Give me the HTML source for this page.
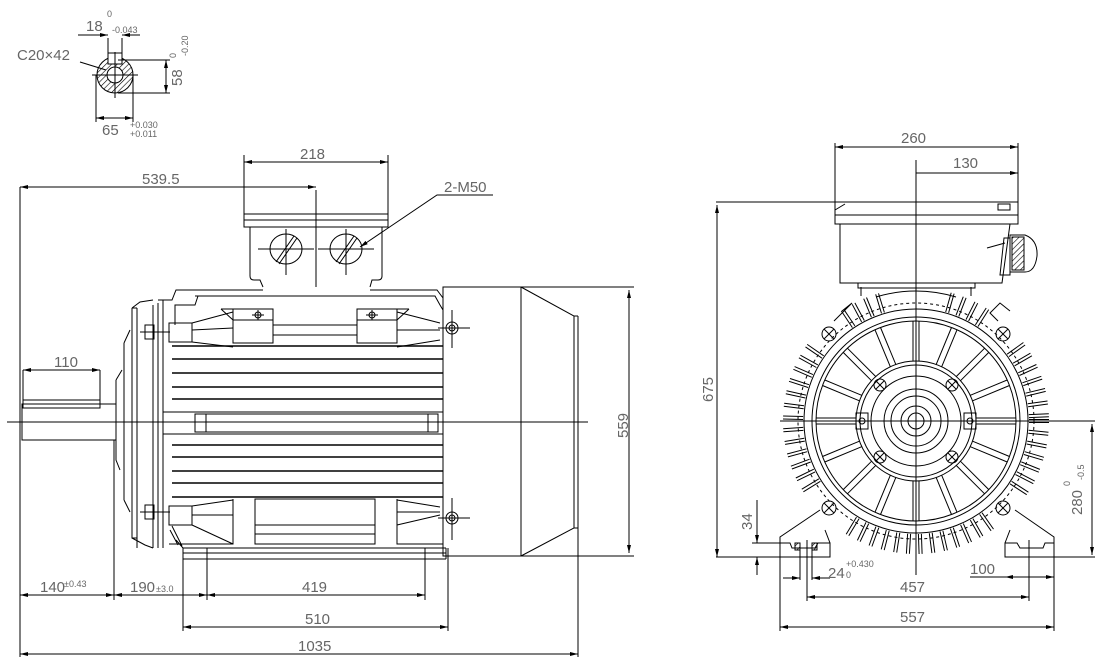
<!DOCTYPE html>
<html><head><meta charset="utf-8"><style>
html,body{margin:0;padding:0;background:#fff;}
svg{display:block}
text{font-family:"Liberation Sans",sans-serif;fill:#666;font-size:15px;stroke:none;}
.s{font-size:9px;}
</style></head><body>
<svg id="d" width="1101" height="669" viewBox="0 0 1101 669" xmlns="http://www.w3.org/2000/svg" stroke="#000" stroke-width="1" fill="none">
<defs>
<marker id="a" markerWidth="8" markerHeight="6" refX="8" refY="3" orient="auto-start-reverse" markerUnits="userSpaceOnUse"><path d="M0,1 L8,3 L0,5" fill="#000" stroke="none"/></marker>
<pattern id="h" width="4" height="4" patternUnits="userSpaceOnUse" patternTransform="rotate(45)"><line x1="0" y1="0" x2="0" y2="4" stroke="#000" stroke-width="1.2"/></pattern>
</defs>

<!-- ===== top-left shaft section ===== -->
<g>
<circle cx="115" cy="75" r="18" fill="url(#h)"/>
<circle cx="115" cy="75" r="8" fill="#fff"/>
<rect x="108" y="53" width="14" height="11" fill="#fff"/>
<line x1="92" y1="75" x2="138" y2="75"/><line x1="115" y1="52" x2="115" y2="98"/>
<line x1="108" y1="38" x2="108" y2="60"/><line x1="122" y1="38" x2="122" y2="60"/>
<line x1="78" y1="35" x2="108" y2="35" marker-end="url(#a)"/><line x1="140" y1="35" x2="122" y2="35" marker-end="url(#a)"/>
<line x1="118" y1="60" x2="170" y2="60"/><line x1="118" y1="93" x2="170" y2="93"/>
<line x1="166" y1="60" x2="166" y2="93" marker-start="url(#a)" marker-end="url(#a)"/>
<line x1="96" y1="75" x2="96" y2="122"/><line x1="133" y1="75" x2="133" y2="122"/>
<line x1="96" y1="118" x2="133" y2="118" marker-start="url(#a)" marker-end="url(#a)"/>
<line x1="80" y1="62" x2="106" y2="70"/>
</g>
<text x="86" y="31">18</text><text x="107" y="17" class="s">0</text><text x="112" y="33" class="s" font-size="10">-0.043</text>
<text x="17" y="60">C20×42</text>
<text x="182" y="86" transform="rotate(-90 182 86)">58</text><text x="176" y="58" class="s" transform="rotate(-90 176 58)">0</text><text x="188" y="56" class="s" transform="rotate(-90 188 56)">-0.20</text>
<text x="102" y="135">65</text><text x="130" y="128" class="s">+0.030</text><text x="130" y="137" class="s">+0.011</text>

<!-- ===== LEFT VIEW ===== -->
<line x1="20" y1="187" x2="20" y2="657"/>
<line x1="20" y1="187" x2="316" y2="187" marker-start="url(#a)" marker-end="url(#a)"/>
<text x="142" y="184">539.5</text>
<line x1="244" y1="155" x2="244" y2="214"/><line x1="388" y1="155" x2="388" y2="214"/>
<line x1="244" y1="162" x2="388" y2="162" marker-start="url(#a)" marker-end="url(#a)"/>
<text x="300" y="159">218</text>
<rect x="244" y="214" width="144" height="13"/><line x1="244" y1="220" x2="388" y2="220"/>
<path d="M250,227 V276 Q250,280 254,280 H260 L263,287 M382,227 V276 Q382,280 378,280 H372 L370,287"/>
<line x1="316" y1="190" x2="316" y2="287"/>
<ellipse cx="286" cy="249" rx="16" ry="15"/><ellipse cx="346" cy="249" rx="16" ry="15"/>
<line x1="258" y1="249" x2="314" y2="249"/><line x1="286" y1="229" x2="286" y2="275"/>
<line x1="318" y1="249" x2="374" y2="249"/><line x1="346" y1="229" x2="346" y2="275"/>
<path d="M276,262 L294,236 M279,264 L297,238 M336,262 L354,236 M339,264 L357,238"/>
<path d="M360,247 L437,195 H493" marker-start="url(#a)"/>
<text x="444" y="192">2-M50</text>
<path d="M158,300 L172,300 L176,290 H263 M370,290 H437 L443,298"/>
<path d="M195,296 H435 L440,305 L443,310"/>
<path d="M175,325 L175,305 L195,305 L198,296"/>
<line x1="163" y1="300" x2="163" y2="548"/>
<line x1="158" y1="303" x2="158" y2="548"/>
<path d="M153,305 V548 M137,308 V548 M132,308 H137 M132,308 V538 H137"/>
<path d="M132,308 L140,302 L153,300"/>
<path d="M132,538 L145,545 L153,548"/>
<path d="M124,343 V500 M124,343 L130,330 M124,500 L130,512 M116,380 V460 L120,470 M116,380 L122,370"/>
<rect x="22" y="404" width="94" height="36"/>
<path d="M23,400 H100 V408 H23 Z"/>
<line x1="23" y1="370" x2="23" y2="404"/><line x1="100" y1="370" x2="100" y2="400"/>
<line x1="23" y1="370" x2="100" y2="370" marker-start="url(#a)" marker-end="url(#a)"/>
<text x="54" y="367">110</text>
<line x1="7" y1="422" x2="588" y2="422"/>
<rect x="169" y="323" width="23" height="19"/>
<path d="M192,323 L233,312 M192,342 L233,347 M192,330 L233,328"/>
<rect x="233" y="309" width="40" height="34"/><path d="M221,309 H233 M221,309 L233,320 M233,320 H273"/>
<rect x="357" y="309" width="40" height="34"/><path d="M397,309 H409 M397,320 H357 M409,309 L397,320"/>
<path d="M273,325 H357 M273,335 H357"/>
<path d="M397,312 L440,323 M397,347 L440,340 M397,330 L440,330"/>
<circle cx="258" cy="315" r="3"/><line x1="252" y1="315" x2="264" y2="315"/><line x1="258" y1="310" x2="258" y2="320"/>
<circle cx="372" cy="315" r="3"/><line x1="366" y1="315" x2="378" y2="315"/><line x1="372" y1="310" x2="372" y2="320"/>
<rect x="145" y="325" width="9" height="14"/><line x1="140" y1="332" x2="170" y2="332"/>
<rect x="145" y="505" width="9" height="14"/><line x1="140" y1="512" x2="170" y2="512"/>
<g stroke-width="1.6">
<line x1="172" y1="346" x2="443" y2="346"/><line x1="172" y1="359" x2="443" y2="359"/><line x1="172" y1="373" x2="443" y2="373"/><line x1="172" y1="387" x2="443" y2="387"/><line x1="172" y1="399" x2="443" y2="399"/>
<line x1="172" y1="445" x2="443" y2="445"/><line x1="172" y1="457" x2="443" y2="457"/><line x1="172" y1="471" x2="443" y2="471"/><line x1="172" y1="483" x2="443" y2="483"/><line x1="172" y1="497" x2="443" y2="497"/>
</g>
<line x1="163" y1="412" x2="443" y2="412"/><line x1="163" y1="434" x2="443" y2="434"/>
<rect x="195" y="414" width="243" height="18"/><line x1="206" y1="414" x2="206" y2="432"/><line x1="428" y1="414" x2="428" y2="432"/>
<rect x="169" y="506" width="23" height="19"/>
<path d="M192,506 L233,500 M192,525 L233,544 M192,515 L233,515 M233,499 V544 H169"/>
<rect x="255" y="499" width="120" height="45"/><line x1="255" y1="525" x2="375" y2="525"/><line x1="255" y1="534" x2="375" y2="534"/>
<path d="M397,499 V544 H443 M397,500 L440,507 M397,525 L440,515 M397,512 L440,512"/>
<path d="M183,548 H446 M183,553 H446 M183,559 H446 M183,548 V559 M446,548 V559"/>
<path d="M170,530 L178,545 M172,526 L182,546 M176,540 L183,548"/>
<circle cx="452" cy="328" r="6"/><circle cx="452" cy="328" r="3"/><line x1="438" y1="328" x2="470" y2="328"/><line x1="452" y1="310" x2="452" y2="348"/>
<circle cx="452" cy="518" r="6"/><circle cx="452" cy="518" r="3"/><line x1="438" y1="518" x2="470" y2="518"/><line x1="452" y1="498" x2="452" y2="540"/>
<path d="M443,287 H521 V556 H443 Z"/>
<path d="M521,287 L574,316 V528 L521,556"/><line x1="578" y1="316" x2="578" y2="657"/><path d="M574,316 H578 M574,528 H578"/>
<line x1="521" y1="287" x2="634" y2="287"/><line x1="521" y1="556" x2="634" y2="556"/>
<line x1="629" y1="290" x2="629" y2="553" marker-start="url(#a)" marker-end="url(#a)"/>
<text x="628" y="438" transform="rotate(-90 628 438)">559</text>
<line x1="114" y1="440" x2="114" y2="600"/><line x1="183" y1="548" x2="183" y2="631"/><line x1="207" y1="548" x2="207" y2="600"/><line x1="425" y1="548" x2="425" y2="600"/><line x1="448" y1="548" x2="448" y2="631"/>
<line x1="20" y1="595" x2="114" y2="595" marker-start="url(#a)" marker-end="url(#a)"/>
<line x1="114" y1="595" x2="207" y2="595" marker-start="url(#a)" marker-end="url(#a)"/>
<line x1="207" y1="595" x2="425" y2="595" marker-start="url(#a)" marker-end="url(#a)"/>
<line x1="183" y1="627" x2="448" y2="627" marker-start="url(#a)" marker-end="url(#a)"/>
<line x1="20" y1="654" x2="578" y2="654" marker-start="url(#a)" marker-end="url(#a)"/>
<text x="40" y="592">140</text><text x="64" y="587" class="s" font-size="11">±0.43</text>
<text x="130" y="592">190</text><text x="156" y="592" class="s" font-size="11">±3.0</text>
<text x="302" y="592">419</text><text x="305" y="624">510</text><text x="298" y="651">1035</text>

<!-- ===== RIGHT VIEW ===== -->
<line x1="835" y1="143" x2="835" y2="205"/><line x1="1018" y1="143" x2="1018" y2="215"/>
<line x1="835" y1="147" x2="1018" y2="147" marker-start="url(#a)" marker-end="url(#a)"/>
<text x="901" y="143">260</text>
<line x1="916" y1="173" x2="1018" y2="173" marker-end="url(#a)"/>
<text x="953" y="168">130</text>
<line x1="716" y1="202" x2="835" y2="202"/>
<line x1="717" y1="205" x2="717" y2="557" marker-start="url(#a)" marker-end="url(#a)"/>
<text x="713" y="402" transform="rotate(-90 713 402)">675</text>
<rect x="835" y="202" width="183" height="13"/><rect x="835" y="215" width="183" height="9"/>
<path d="M835,210 L845,204 M998,204 H1010 V210 H998 Z"/>
<path d="M840,224 V283 H1002 L1010,224"/>
<path d="M1004,238 H1010 V275 H1000 Z"/>
<path d="M1010,235 H1025 Q1038,240 1037,256 Q1035,272 1025,272 H1010 Z" />
<path d="M1012,237 H1024 V270 H1012 Z" fill="url(#h)"/>
<line x1="987" y1="248" x2="1005" y2="243"/>
<path d="M858,283 V288 H975 V283"/>
<line x1="916" y1="160" x2="916" y2="575"/>
<line x1="780" y1="421" x2="1095" y2="421"/>
<g id="rv"></g>
<path d="M780,543 V557 H830 V543 H818 L815,548 H792 L790,543 Z M780,543 V537 L820,510 M830,543 L825,530"/>
<rect x="795" y="543" width="5" height="7" fill="url(#h)"/><rect x="812" y="543" width="5" height="7" fill="url(#h)"/>
<path d="M1054,543 V557 H1005 V543 H1017 L1020,548 H1043 L1045,543 Z M1054,543 V537 L1015,510 M1005,543 L1010,530"/>
<line x1="807" y1="540" x2="807" y2="601"/><line x1="1029" y1="540" x2="1029" y2="601"/>
<line x1="780" y1="557" x2="780" y2="631"/><line x1="1054" y1="557" x2="1054" y2="631"/>
<line x1="716" y1="557" x2="780" y2="557"/><line x1="1054" y1="557" x2="1095" y2="557"/>
<line x1="1092" y1="424" x2="1092" y2="555" marker-start="url(#a)" marker-end="url(#a)"/>
<text x="1082" y="515" transform="rotate(-90 1082 515)">280</text><text x="1070" y="486" class="s" transform="rotate(-90 1070 486)">0</text><text x="1084" y="480" class="s" font-size="10" transform="rotate(-90 1084 480)">-0.5</text>
<line x1="752" y1="543" x2="780" y2="543"/>
<line x1="757" y1="500" x2="757" y2="543" marker-end="url(#a)"/><line x1="757" y1="575" x2="757" y2="557" marker-end="url(#a)"/>
<text x="752" y="530" transform="rotate(-90 752 530)">34</text>
<line x1="783" y1="578" x2="800" y2="578" marker-end="url(#a)"/><line x1="830" y1="578" x2="812" y2="578" marker-end="url(#a)"/>
<line x1="800" y1="548" x2="800" y2="580"/><line x1="812" y1="548" x2="812" y2="580"/>
<text x="828" y="578">24</text><text x="846" y="567" class="s" font-size="10">+0.430</text><text x="846" y="578" class="s">0</text>
<line x1="970" y1="577" x2="1005" y2="577"/><line x1="1005" y1="577" x2="1054" y2="577" marker-start="url(#a)" marker-end="url(#a)"/>
<text x="970" y="574">100</text>
<line x1="807" y1="597" x2="1029" y2="597" marker-start="url(#a)" marker-end="url(#a)"/>
<text x="900" y="592">457</text>
<line x1="780" y1="627" x2="1054" y2="627" marker-start="url(#a)" marker-end="url(#a)"/>
<text x="900" y="622">557</text>
</svg>
<script>
(function(){
var g=document.getElementById('rv'),cx=916,cy=421,h='';
function L(a,b,c,d){h+='<line x1="'+a.toFixed(1)+'" y1="'+b.toFixed(1)+'" x2="'+c.toFixed(1)+'" y2="'+d.toFixed(1)+'"/>';}
function C(x,y,r){h+='<circle cx="'+x.toFixed(1)+'" cy="'+y.toFixed(1)+'" r="'+r+'"/>';}
[112,104,100,60,56,45,32,25,15,8].forEach(function(r){C(cx,cy,r);});
for(var i=0;i<16;i++){var t=i*Math.PI/8,c=Math.cos(t),s=Math.sin(t),px=-s*3,py=c*3;
 L(cx+c*60+px,cy+s*60+py,cx+c*100+px,cy+s*100+py);L(cx+c*60-px,cy+s*60-py,cx+c*100-px,cy+s*100-py);}
/* fins: short, dense, paired lines forming comb */
for(var a=0;a<360;a+=5.5){
 var d=((a%90)+90)%90; if(a%90>35&&a%90<55 && (a>180&&a<360 || a<180)) { if(Math.abs((a%90)-45)<9) continue; }
 if(a>255&&a<285) continue;
 var t=a*Math.PI/180,c=Math.cos(t),s=Math.sin(t),px=-s*1.5,py=c*1.5;
 L(cx+c*113+px,cy+s*113+py,cx+c*133+px,cy+s*133+py);L(cx+c*113-px,cy+s*113-py,cx+c*133-px,cy+s*133-py);}
h+='<circle cx="'+cx+'" cy="'+cy+'" r="118" stroke-dasharray="3 3"/>';
[[-1,-1],[1,-1],[-1,1],[1,1]].forEach(function(p){var x=cx+p[0]*87,y=cy+p[1]*87;C(x,y,7);L(x-5,y-5,x+5,y+5);L(x-5,y+5,x+5,y-5);
 var x2=cx+p[0]*36,y2=cy+p[1]*36;C(x2,y2,6);L(x2-4,y2-4,x2+4,y2+4);L(x2-4,y2+4,x2+4,y2-4);});
[[-1],[1]].forEach(function(p){var x=cx+p[0]*94,y=cy-94;h+='<path d="M'+(x-12*p[0])+','+(y-6)+' l'+(-8*p[0])+',-8 l10,-10 l'+(10*p[0])+',8"/>';});
h+='<rect x="'+(cx-60)+'" y="'+(cy-8)+'" width="12" height="16"/><rect x="'+(cx+48)+'" y="'+(cy-8)+'" width="12" height="16"/>';
C(cx-54,cy,3);C(cx+54,cy,3);
h+='<path d="M'+(cx-55)+','+(cy-125)+' V'+(cy-134)+' M'+(cx+55)+','+(cy-125)+' V'+(cy-134)+' M'+(cx-40)+','+(cy-124)+' Q'+cx+','+(cy-136)+' '+(cx+40)+','+(cy-124)+'"/>';
g.innerHTML=h;
})();
</script>
</body></html>
